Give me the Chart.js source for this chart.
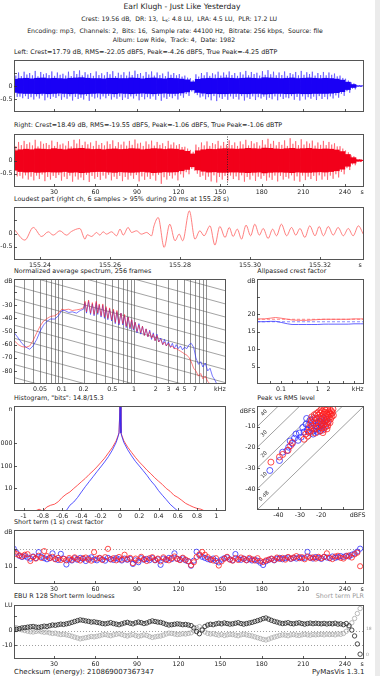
<!DOCTYPE html>
<html><head><meta charset="utf-8">
<script src="https://cdn.jsdelivr.net/npm/chart.js@4.4.1/dist/chart.umd.min.js"></script>
<style>
html,body{margin:0;padding:0;background:#fff;width:380px;height:676px;overflow:hidden;font-family:'DejaVu Sans',sans-serif;}
canvas{position:absolute;left:0;top:0;}
.t{position:absolute;white-space:pre;color:#222;}
#sb{position:absolute;left:375px;top:0;width:5px;height:676px;background:#ebebeb;}
</style></head><body>
<div id="sb"></div>
<script>
// ---------------- DATA ----------------
const waveTimes = [2,6,10,14,18,22,26,30,34,38,42,46,50,54,58,62,66,70,74,78,82,86,90,94,98,102,106,110,114,118,122,126,130,134,138,142,146,150,154,158,162,166,170,174,178,182,186,190,194,198,202,206,210,214,218,222,226,230,234,238,242,246,250,254];
const leftCoreHi = [0.27,0.30,0.31,0.29,0.31,0.32,0.30,0.31, 0.30,0.29,0.31,0.32,0.33,0.31,0.30,0.30, 0.29,0.31,0.31,0.30,0.30,0.32,0.31,0.29, 0.31,0.32,0.30,0.29,0.31,0.30,0.28,0.25, 0.17,0.27,0.30,0.31,0.30,0.31,0.32,0.31, 0.30,0.31,0.32,0.31,0.30,0.33,0.32,0.31, 0.30,0.31,0.32,0.30,0.31,0.32,0.31,0.30, 0.31,0.30,0.28,0.24,0.16,0.07,0.02,0.01];
const leftCoreLo = [-0.26,-0.29,-0.30,-0.30,-0.31,-0.30,-0.31,-0.30, -0.29,-0.30,-0.31,-0.30,-0.32,-0.31,-0.30,-0.29, -0.30,-0.30,-0.31,-0.29,-0.30,-0.31,-0.30,-0.29, -0.30,-0.31,-0.30,-0.29,-0.30,-0.30,-0.28,-0.24, -0.16,-0.26,-0.29,-0.31,-0.30,-0.31,-0.31,-0.30, -0.30,-0.31,-0.31,-0.30,-0.30,-0.32,-0.31,-0.30, -0.30,-0.31,-0.31,-0.30,-0.31,-0.31,-0.30,-0.30, -0.30,-0.29,-0.27,-0.23,-0.15,-0.07,-0.02,-0.01];
const leftSpikeHi = [0.48,0.52,0.55,0.50,0.58,0.54,0.49,0.56, 0.52,0.47,0.55,0.58,0.60,0.53,0.50,0.56, 0.49,0.54,0.57,0.51,0.53,0.55,0.59,0.50, 0.54,0.56,0.52,0.48,0.55,0.50,0.46,0.40, 0.30,0.45,0.50,0.53,0.49,0.55,0.52,0.56, 0.50,0.53,0.58,0.54,0.51,0.57,0.61,0.55, 0.52,0.56,0.50,0.54,0.58,0.53,0.55,0.50, 0.54,0.52,0.48,0.40,0.28,0.14,0.04,0.02];
const leftSpikeLo = [-0.42,-0.47,-0.50,-0.52,-0.48,-0.55,-0.50,-0.46, -0.53,-0.49,-0.56,-0.50,-0.52,-0.57,-0.48,-0.51, -0.47,-0.52,-0.49,-0.54,-0.50,-0.48,-0.55,-0.51, -0.49,-0.53,-0.57,-0.50,-0.47,-0.52,-0.45,-0.38, -0.28,-0.44,-0.51,-0.55,-0.58,-0.50,-0.53,-0.49, -0.52,-0.56,-0.50,-0.54,-0.48,-0.53,-0.51,-0.55, -0.50,-0.47,-0.53,-0.56,-0.52,-0.49,-0.54,-0.50, -0.51,-0.48,-0.45,-0.38,-0.26,-0.13,-0.04,-0.02];
const leftSpike2Hi = [0.40,0.38,0.44,0.41,0.37,0.45,0.42,0.39, 0.43,0.40,0.38,0.46,0.41,0.44,0.39,0.42, 0.41,0.45,0.38,0.43,0.40,0.42,0.46,0.39, 0.44,0.40,0.42,0.38,0.43,0.41,0.36,0.32, 0.22,0.36,0.41,0.39,0.44,0.40,0.43,0.42, 0.39,0.44,0.41,0.46,0.40,0.43,0.45,0.41, 0.42,0.39,0.45,0.41,0.43,0.46,0.40,0.42, 0.41,0.43,0.37,0.31,0.21,0.10,0.03,0.015];
const leftSpike2Lo = [-0.36,-0.41,-0.39,-0.43,-0.40,-0.37,-0.44,-0.41, -0.39,-0.43,-0.40,-0.42,-0.45,-0.38,-0.41,-0.44, -0.40,-0.38,-0.43,-0.41,-0.44,-0.40,-0.39,-0.42, -0.43,-0.40,-0.38,-0.44,-0.41,-0.39,-0.37,-0.31, -0.21,-0.35,-0.40,-0.43,-0.39,-0.44,-0.41,-0.40, -0.42,-0.39,-0.44,-0.40,-0.43,-0.41,-0.45,-0.40, -0.41,-0.44,-0.39,-0.42,-0.40,-0.43,-0.41,-0.39, -0.42,-0.40,-0.36,-0.30,-0.20,-0.10,-0.03,-0.015];
const rightCoreHi = [0.38,0.42,0.44,0.42,0.45,0.44,0.43,0.46, 0.44,0.42,0.45,0.46,0.47,0.45,0.43,0.44, 0.42,0.44,0.45,0.43,0.44,0.46,0.45,0.42, 0.44,0.46,0.45,0.43,0.45,0.44,0.41,0.36, 0.26,0.38,0.42,0.44,0.43,0.45,0.46,0.45, 0.44,0.45,0.47,0.46,0.45,0.48,0.47,0.45, 0.44,0.46,0.47,0.45,0.46,0.47,0.45,0.44, 0.45,0.44,0.41,0.35,0.24,0.12,0.04,0.02];
const rightCoreLo = [-0.38,-0.43,-0.45,-0.44,-0.46,-0.45,-0.44,-0.45, -0.45,-0.43,-0.46,-0.45,-0.47,-0.46,-0.44,-0.43, -0.43,-0.45,-0.46,-0.44,-0.45,-0.46,-0.45,-0.43, -0.45,-0.47,-0.46,-0.44,-0.45,-0.44,-0.40,-0.35, -0.25,-0.37,-0.42,-0.45,-0.44,-0.46,-0.46,-0.45, -0.45,-0.46,-0.47,-0.46,-0.45,-0.48,-0.46,-0.45, -0.45,-0.46,-0.47,-0.45,-0.46,-0.46,-0.45,-0.44, -0.45,-0.43,-0.40,-0.34,-0.23,-0.11,-0.04,-0.02];
const rightSpikeHi = [0.62,0.70,0.74,0.68,0.78,0.72,0.66,0.75, 0.70,0.64,0.73,0.78,0.80,0.71,0.68,0.74, 0.66,0.72,0.76,0.69,0.71,0.74,0.79,0.67, 0.72,0.75,0.70,0.65,0.74,0.68,0.62,0.52, 0.40,0.60,0.68,0.72,0.66,0.74,0.70,0.76, 0.68,0.72,0.78,0.73,0.69,0.77,0.82,0.74, 0.70,0.76,0.84,0.73,0.80,0.72,0.75,0.68, 0.74,0.70,0.65,0.54,0.38,0.19,0.06,0.03];
const rightSpikeLo = [-0.60,-0.68,-0.72,-0.75,-0.70,-0.78,-0.72,-0.66, -0.76,-0.70,-0.80,-0.72,-0.74,-0.81,-0.69,-0.73, -0.68,-0.75,-0.70,-0.78,-0.72,-0.69,-0.79,-0.73, -0.70,-0.76,-0.88,-0.72,-0.68,-0.75,-0.64,-0.52, -0.38,-0.62,-0.73,-0.79,-0.83,-0.72,-0.76,-0.70, -0.74,-0.80,-0.72,-0.77,-0.69,-0.76,-0.73,-0.79, -0.72,-0.68,-0.76,-0.80,-0.74,-0.70,-0.77,-0.72, -0.73,-0.69,-0.64,-0.52,-0.36,-0.18,-0.06,-0.03];
const rightSpike2Hi = [0.54,0.58,0.62,0.57,0.53,0.63,0.59,0.55, 0.60,0.56,0.53,0.64,0.58,0.61,0.55,0.59, 0.57,0.62,0.54,0.60,0.56,0.59,0.64,0.55, 0.61,0.56,0.59,0.54,0.60,0.57,0.51,0.45, 0.33,0.50,0.57,0.55,0.61,0.56,0.60,0.58, 0.55,0.61,0.57,0.64,0.56,0.60,0.63,0.57, 0.59,0.55,0.63,0.58,0.60,0.64,0.56,0.59, 0.58,0.60,0.53,0.45,0.31,0.16,0.05,0.025];
const rightSpike2Lo = [-0.52,-0.58,-0.56,-0.61,-0.57,-0.53,-0.62,-0.58, -0.55,-0.61,-0.57,-0.60,-0.64,-0.54,-0.58,-0.62, -0.57,-0.54,-0.61,-0.58,-0.62,-0.57,-0.55,-0.60, -0.61,-0.57,-0.54,-0.63,-0.58,-0.56,-0.52,-0.44, -0.32,-0.50,-0.57,-0.61,-0.56,-0.62,-0.58,-0.57, -0.60,-0.56,-0.62,-0.57,-0.61,-0.58,-0.64,-0.57, -0.58,-0.62,-0.56,-0.60,-0.57,-0.61,-0.58,-0.56, -0.60,-0.57,-0.52,-0.43,-0.29,-0.15,-0.05,-0.025];
const loudestAt = 155.28;

const loudT = [155.2326,155.2357,155.2381,155.2405,155.2424,155.2438,155.2457,155.2476,155.2490,155.2514,155.2529,155.2535,155.2548,155.2562,155.2571,155.2581,155.2590,155.2605,155.2619,155.2629,155.2638,155.2652,155.2662,155.2676,155.2690,155.2705,155.2719,155.2726,155.2738,155.2755,155.2771,155.2786,155.2798,155.2808,155.2827,155.2843,155.2857,155.2869,155.2886,155.2900,155.2914,155.2929,155.2941,155.2952,155.2964,155.2976,155.2989,155.3002,155.3014,155.3027,155.3038,155.3052,155.3065,155.3076,155.3090,155.3105,155.3119,155.3131,155.3143,155.3157,155.3171,155.3186,155.3198,155.3210,155.3224,155.3238,155.3252,155.3267,155.3281,155.3295,155.3310,155.3324];
const loudV = [0.164,-0.249,0.227,-0.112,0.064,-0.061,0.102,-0.061,0.076,0.189,-0.212,-0.049,-0.112,0.039,-0.061,0.064,-0.024,0.064,-0.086,0.164,-0.061,0.227,0.039,0.102,-0.024,0.039,-0.086,0.289,0.603,-0.525,0.352,-0.274,-0.024,-0.274,0.853,-0.212,0.102,-0.086,0.289,-0.437,0.264,-0.149,0.227,-0.112,0.164,-0.212,0.315,-0.086,0.352,-0.061,0.189,-0.187,0.164,-0.086,0.352,-0.086,0.227,-0.061,0.189,-0.149,0.289,-0.086,0.264,-0.086,0.264,-0.061,0.227,-0.086,0.189,-0.086,0.289,-0.024];

const specFreq = [0.022,0.025,0.028,0.032,0.036,0.04,0.045,0.05,0.056,0.063, 0.07,0.08,0.09,0.1,0.11,0.125,0.14,0.16,0.18,0.2, 0.21,0.22,0.235,0.25,0.265,0.28,0.3,0.315,0.33,0.35, 0.37,0.39,0.41,0.435,0.46,0.49,0.52,0.55,0.58,0.62, 0.66,0.7,0.74,0.78,0.83,0.88,0.93,0.98,1.04,1.1, 1.17,1.24,1.31,1.39,1.47,1.56,1.65,1.75,1.85,1.96, 2.08,2.2,2.35,2.5,2.65,2.8,3.0,3.2,3.4,3.6, 3.85,4.1,4.4,4.7,5.0,5.4,5.8,6.2,6.7,7.2, 7.8,8.4,9.0,9.7,10.5,11.3,12.2,13.2,14.3,15.5, 17,18.8];
const specLeft = [-51,-55,-59,-62,-63.5,-61,-56,-50,-45,-42, -40.5,-40.5,-38,-34,-34,-35.5,-35,-36,-34,-33, -28,-36,-27,-37,-29,-38,-28,-37,-30,-39, -30,-40,-32,-41,-33,-42,-34,-44,-35,-45, -36,-45,-38,-47,-39,-48,-41,-49,-43,-51, -44,-52,-46,-53,-48,-54,-49,-56,-51,-57, -52,-58,-55,-60,-56,-61,-58,-62,-59,-63, -60,-63,-61,-64,-62,-63,-60,-59,-62,-70, -75,-73,-77,-74,-80,-78,-84,-87,-91,-94, -96,-98];
const specRight = [-57,-60,-61.5,-62,-61,-57,-51,-46,-42,-40, -38.5,-38,-36,-33,-33.5,-33,-34,-33.5,-33,-32, -27,-35,-26,-36,-28,-37,-27,-36,-29,-38, -29,-39,-31,-40,-32,-41,-33,-43,-34,-44, -36,-44,-37,-46,-39,-47,-41,-48,-43,-50, -45,-51,-46,-53,-48,-54,-50,-55,-52,-57, -53,-58,-56,-60,-58,-61,-59,-62,-61,-63, -63,-64,-65,-66,-67,-68,-70,-73,-78,-80, -84,-82,-86,-84,-88,-90,-93,-96,-98,-99, -100,-100];
const specRefLines = [0,-10,-20,-30,-40,-50,-60,-70,-80,-90,-100,-110,-120];

const apFreq = [0.022,0.035,0.05,0.07,0.1,0.15,0.2,0.3,0.5,0.7,1,1.5,2,3,5,7,10,15,18.8];
const apRight = [18.6,18.6,18.8,19.0,18.8,18.5,18.3,18.2,18.2,18.3,18.4,18.5,18.5,18.5,18.5,18.5,18.6,18.6,18.6];
const apLeft = [17.8,17.8,17.9,17.9,17.6,17.2,17.0,17.0,17.0,17.0,17.0,17.1,17.1,17.1,17.1,17.1,17.2,17.2,17.2];
const crestLeftDb = 17.79, crestRightDb = 18.49;

const histRedX = [-1.02,-0.92,-0.88,-0.84,-0.80,-0.76,-0.72,-0.68,-0.64,-0.60,-0.56,-0.52,-0.48,-0.44,-0.40,-0.36,-0.32,-0.28,-0.24,-0.20,-0.16,-0.12,-0.08,-0.04,-0.02,-0.01,0,0.01,0.02,0.04,0.08,0.12,0.16,0.20,0.24,0.28,0.32,0.36,0.40,0.44,0.48,0.52,0.56,0.60,0.64,0.68,0.72,0.76,0.80,0.84,0.88,0.96];
const histRed = [1,1,1,1.2,1,1.5,1.8,2,2.6,4,5.5,7,10,14,20,28,42,60,90,140,220,380,650,1300,2200,3000,45000,3000,2200,1300,680,400,240,150,100,65,45,30,21,15,10,7.5,5,4,3,2.2,1.8,1.5,1.3,1.2,1,1];
const histBlueX = [-0.58,-0.56,-0.52,-0.48,-0.44,-0.40,-0.36,-0.32,-0.28,-0.24,-0.20,-0.16,-0.12,-0.08,-0.04,-0.02,-0.01,0,0.01,0.02,0.04,0.08,0.12,0.16,0.20,0.24,0.28,0.32,0.36,0.40,0.44,0.48,0.52,0.56,0.60];
const histBlue = [1,1,1.8,2.5,4,7,12,20,33,55,90,150,260,500,1100,2000,2900,45000,2900,2000,1100,520,280,160,100,62,38,22,14,8,5,3.2,2,1.4,1];

const pvrRightRms = [-43.5,-39.5,-38,-35.5,-34.3,-33.5,-28,-27.2,-26,-25.5,-24.7,-23.2,-24,-23,-22.5,-22,-21.8,-21.5,-21,-20.8,-20.5,-20.3,-20,-19.8,-19.5,-19.3,-19,-18.8,-18.6,-18.4,-18.2,-18,-17.8,-17.6,-17.4,-17.2,-17,-16.8,-16.6,-16.4,-16.2,-16,-15.8,-15.6,-15.4,-15.2,-15,-14.8,-14.5,-14.3,-19.6,-18.9,-17.9,-20.6,-22.8,-16.9,-21.2,-18.5,-17.3,-15.9,-20.1,-19.2,-22.2,-23.6,-24.4,-25,-26.3,-24.8];
const pvrRightPeak = [-27,-24.5,-23.3,-21.3,-19,-17.6,-16,-13.5,-12.5,-10.3,-7.2,-4.2,-9.5,-11,-8,-6,-10,-4.5,-7.5,-9.5,-3.5,-6,-8.5,-5,-2.5,-7,-4,-9,-5.8,-3,-7.5,-2,-5,-8.5,-3.8,-6.5,-1.5,-4.5,-7.5,-2.8,-5.5,-3.5,-1.8,-6.2,-4,-2.5,-5,-3.2,-1.5,-4.5,-10.5,-11.5,-10,-12,-13,-9.5,-2.8,-1.2,-11,-8,-1.8,-12.8,-3.6,-6.2,-5.2,-8.5,-14.5,-12];
const pvrLeftRms = [-44,-39.5,-38,-36,-33.5,-32.5,-31.8,-30.2,-29.4,-28.6,-27.1,-26.5,-25.8,-25.2,-24.6,-24,-23.5,-23,-22.5,-22,-21.5,-21,-20.5,-20,-19.5,-19,-18.5,-18,-17.5,-17,-23.8,-21.8,-20.2,-25.5,-22.8,-19.8,-18.8,-26.8,-28,-30.8,-34.5,-35.2];
const pvrLeftPeak = [-31,-26.2,-22.2,-21.5,-18,-15.5,-13.5,-13,-15,-10.3,-8.7,-11.5,-9,-6.8,-10.5,-8,-12,-7,-9.5,-11,-8,-10.5,-7.5,-9.5,-8.5,-10.8,-7,-9.5,-6.5,-8,-13.5,-12.5,-11.8,-12.8,-5.8,-6.2,-5.5,-6,-12.5,-16.5,-16.8,-19.8];
const pvrCrestLines = [0,10,20,30,40];
const pvrCrestLabels = ['0 dB','10','20','30','40'];

const stTimes = [1,3,5,7,9,11,13,15,17,19,21,23,25,27,29,31,33,35,37,39,41,43,45,47,49,51,53,55,57,59,61,63,65,67,69,71,73,75,77,79,81,83,85,87,89,91,93,95,97,99,101,103,105,107,109,111,113,115,117,119,121,123,125,127,129,131,133,135,137,139,141,143,145,147,149,151,153,155,157,159,161,163,165,167,169,171,173,175,177,179,181,183,185,187,189,191,193,195,197,199,201,203,205,207,209,211,213,215,217,219,221,223,225,227,229,231,233,235,237,239,241,243,245,247,249,251];
const stCrestRight = [18.4,17.2,16.5,15.8,16.8,17.1,13.2,15.5,14.6,16.2, 15.0,18.9,16.0,14.8,15.6,14.2,15.0,13.8,14.5,13.6, 14.9,13.9,15.3,14.4,13.5,14.8,15.2,14.0,13.4,18.3, 14.6,15.0,13.8,15.4,20.2,14.1,14.8,13.6,15.5,14.0, 16.8,14.2,15.0,12.0,14.6,13.5,15.6,14.3,13.2,14.8, 15.4,13.8,14.6,13.0,15.3,14.2,13.6,14.9,15.8,14.4, 13.7,15.1,14.0,13.1,10.8,12.5,15.5,17.0,18.4,16.8, 15.4,14.2,13.5,14.8,10.6,13.0,14.5,15.6,14.0,13.4, 14.9,13.8,15.2,14.4,13.6,15.0,14.2,13.5,14.8,13.2, 12.6,13.5,14.0,14.6,13.8,15.2,14.4,15.0,14.0,15.5, 14.6,15.2,16.0,14.8,15.4,14.2,15.8,14.9,15.3,14.6, 15.6,14.8,15.5,17.6,15.0,14.3,15.8,16.2,15.0,14.6, 15.9,16.4,15.2,17.0,18.0,10.2];
const stCrestLeft = [20.3,18.0,16.2,15.5,16.0,15.2,14.6,15.8,14.9,18.3, 15.6,14.8,14.2,15.0,17.6,14.4,13.8,17.3,14.5,11.2, 14.0,13.5,14.8,13.9,15.0,14.4,13.2,14.6,15.3,14.0, 13.6,14.8,14.1,13.4,15.0,14.3,13.8,14.9,14.2,13.5, 14.6,13.9,14.4,11.5,13.6,12.5,14.8,13.9,14.4,13.7, 14.9,13.6,14.2,11.0,14.6,13.8,15.0,14.3,17.6,14.5, 14.0,14.7,13.6,13.0,10.5,13.4,18.5,16.5,15.6,15.0, 14.3,13.8,14.6,13.2,12.4,14.0,14.8,15.3,14.2,13.6, 17.2,14.4,13.9,14.6,13.7,14.3,13.5,14.0,13.3,12.2, 10.9,13.0,13.8,14.4,13.6,14.6,15.0,14.2,14.8,15.2, 14.4,15.0,14.6,15.4,14.8,15.0,18.4,15.2,14.6,15.5, 15.0,14.4,15.6,15.2,14.8,15.8,15.0,15.4,16.0,15.5, 16.2,15.8,16.8,17.5,18.6,20.3];
const stLoudness = [0.5,1.0,1.5,2.0,2.2,2.5,2.8,3.0,2.6,2.4, 2.8,3.2,3.0,3.5,4.0,3.8,4.2,4.6,4.4,4.8, 5.2,5.8,6.4,7.0,7.5,7.2,6.8,6.5,6.0,6.2, 5.8,5.5,5.0,4.8,5.2,5.6,5.0,4.6,4.2,4.8, 5.4,5.8,5.2,4.8,5.5,6.0,5.6,5.0,5.4,6.2, 6.8,6.4,6.0,5.8,5.2,4.5,4.0,4.2,4.5,4.8, 4.6,4.2,4.4,4.0,3.6,2.0,-0.5,-2.0,0.5,3.0, 4.0,4.5,4.2,4.8,5.2,4.8,5.4,5.0,4.6,4.8, 5.2,5.6,5.0,4.6,5.0,5.4,5.8,6.4,7.0,7.6, 8.4,8.8,8.0,7.2,6.5,6.0,5.4,5.0,5.2,5.6, 5.0,4.8,5.2,5.5,5.0,4.6,5.0,5.3,4.9,5.2, 5.0,4.8,5.1,4.7,5.0,4.8,5.2,4.6,4.8,4.2, 5.0,3.5,0.5,-3.5,-9.0,-16.0];
const stPLR = [19.5,19.0,18.2,17.5,17.0,16.6,16.2,16.0,16.4,16.8, 16.2,15.8,16.0,15.4,15.0,15.2,14.6,14.2,14.4,14.0, 13.6,13.0,12.4,11.8,11.2,11.6,12.0,12.4,12.8,12.6, 13.0,13.4,14.0,14.2,13.8,13.4,14.0,14.4,14.8,14.2, 13.6,13.2,13.8,14.2,13.5,13.0,13.4,14.0,13.6,12.8, 12.2,12.6,13.0,13.2,13.8,14.6,15.2,15.0,14.6,14.2, 14.4,14.8,14.6,15.0,15.4,16.8,19.0,19.8,18.0,16.0, 15.0,14.6,14.8,14.2,13.8,14.2,13.6,14.0,14.4,14.2, 13.8,13.4,14.0,14.4,14.0,13.6,13.2,12.6,12.0,11.4, 10.8,10.4,11.0,11.8,12.4,13.0,13.6,14.0,13.8,13.4, 14.0,14.2,13.8,13.6,14.0,14.4,14.0,13.8,14.2,14.0, 14.2,14.4,14.0,14.5,14.2,14.4,14.0,14.6,14.4,15.0, 16.5,19.5,22.5,25.5,29.0,32.5];

const timeTicks = [30,60,90,120,150,180,210,240];
const timeTickLabels = ['30','60','90','120','150','180','210','240'];

// ---------------- HELPERS ----------------
const FONTF = "'DejaVu Sans', sans-serif";
const TF = 6.3;      // tick label size
const AT = 6.4;      // axes title size
const BLUE = '#1a00f5', BLUE_L = 'rgba(70,55,255,0.75)', RED = '#f2001a', RED_L = 'rgba(255,60,75,0.7)';
Chart.defaults.font.family = FONTF;

const measurer = document.createElement('canvas').getContext('2d');
function textWidth(str, size) { measurer.font = size + "px 'DejaVu Sans'"; return measurer.measureText(str).width; }
function fitSize(str, width) { return 20 * width / textWidth(str, 20); }
function addText(str, o) {
  const fs = o.size;
  const w = textWidth(str, fs);
  let l = o.left;
  if (o.right !== undefined) l = o.right - w;
  if (o.center !== undefined) l = o.center - w / 2;
  const d = document.createElement('div');
  d.className = 't';
  d.style.left = l.toFixed(2) + 'px';
  d.style.top = (o.cy - fs * 0.62).toFixed(2) + 'px';
  d.style.fontSize = fs.toFixed(2) + 'px';
  d.style.lineHeight = (fs * 1.2).toFixed(2) + 'px';
  if (o.color) d.style.color = o.color;
  if (o.html) d.innerHTML = o.html; else d.textContent = str;
  document.body.appendChild(d);
}

function axis(pos, type, min, max, ticks, labels, size, extra) {
  const horiz = pos === 'bottom';
  const o = {
    type, position: pos, min, max, offset: false,
    grid: {display: false, drawTicks: false},
    border: {display: false},
    afterBuildTicks: s => { s.ticks = ticks.map(v => ({value: v})); },
    ticks: {autoSkip: false, maxRotation: 0, minRotation: 0, padding: 1.5,
      font: {family: FONTF, size: TF}, color: '#222',
      callback: (v, i) => labels[i]},
    afterFit: s => { if (horiz) s.height = size; else s.width = size; }
  };
  return Object.assign(o, extra || {});
}

function chartAt(A, xh, rw, type, datasets, scales, hooks) {
  const c = document.createElement('canvas');
  c.width = 380; c.height = 676;
  document.body.appendChild(c);
  hooks = hooks || {};
  return new Chart(c, {
    type, data: {datasets},
    options: {
      responsive: false, animation: false, devicePixelRatio: 1, events: [],
      layout: {padding: {left: 0, top: A.t, right: 380 - A.r - (rw || 0), bottom: 676 - A.b - xh}},
      plugins: {legend: {display: false}, tooltip: {enabled: false}},
      scales
    },
    plugins: [{
      id: 'deco',
      beforeDatasetsDraw(ch) {
        const ctx = ch.ctx, a = ch.chartArea;
        ctx.save(); ctx.beginPath(); ctx.rect(a.left, a.top, a.right - a.left, a.bottom - a.top); ctx.clip();
        if (hooks.before) hooks.before(ch, ctx, a);
        ctx.restore();
      },
      afterDatasetsDraw(ch) {
        const ctx = ch.ctx, a = ch.chartArea;
        ctx.save(); ctx.beginPath(); ctx.rect(a.left, a.top, a.right - a.left, a.bottom - a.top); ctx.clip();
        if (hooks.after) hooks.after(ch, ctx, a);
        ctx.restore();
        ctx.save();
        ctx.strokeStyle = '#555'; ctx.lineWidth = 1;
        ctx.strokeRect(a.left + 0.5, a.top + 0.5, a.right - a.left - 1, a.bottom - a.top - 1);
        const marks = hooks.marks || {};
        ctx.strokeStyle = '#333'; ctx.lineWidth = 0.8;
        for (const id in marks) {
          const s = ch.scales[id];
          for (const v of marks[id]) {
            const p = Math.round(s.getPixelForValue(v)) + 0.5;
            ctx.beginPath();
            if (s.isHorizontal()) { ctx.moveTo(p, a.bottom); ctx.lineTo(p, a.bottom - 3); }
            else if (s.position === 'left') { ctx.moveTo(a.left, p); ctx.lineTo(a.left + 3, p); }
            else { ctx.moveTo(a.right, p); ctx.lineTo(a.right - 3, p); }
            ctx.stroke();
          }
        }
        ctx.restore();
      }
    }]
  });
}

// ---------------- TEXT ----------------
const encLine = 'Encoding: mp3,  Channels: 2,  Bits: 16,  Sample rate: 44100 Hz,  Bitrate: 256 kbps,  Source: file';
const HS = fitSize(encLine, 296);
addText('Earl Klugh - Just Like Yesterday', {size: 7.6, center: 182, cy: 7});
addText('Crest: 19.56 dB,  DR: 13,  LK: 4.8 LU,  LRA: 4.5 LU,  PLR: 17.2 LU', {size: HS, center: 180, cy: 19.3,
  html: 'Crest: 19.56 dB,  DR: 13,  L<sub style="font-size:60%;vertical-align:-0.15em">K</sub>: 4.8 LU,  LRA: 4.5 LU,  PLR: 17.2 LU'});
addText(encLine, {size: HS, center: 175, cy: 30.5});
addText('Album: Low Ride,  Track: 4,  Date: 1982', {size: HS, center: 174, cy: 40});
addText('Left: Crest=17.79 dB, RMS=-22.05 dBFS, Peak=-4.26 dBFS, True Peak=-4.25 dBTP', {size: AT, left: 14, cy: 52.5});
addText('Right: Crest=18.49 dB, RMS=-19.55 dBFS, Peak=-1.06 dBFS, True Peak=-1.06 dBTP', {size: AT, left: 14, cy: 126});
addText('Loudest part (right ch, 6 samples > 95% during 20 ms at 155.28 s)', {size: AT, left: 14, cy: 200});
addText('Normalized average spectrum, 256 frames', {size: AT, left: 14, cy: 272.3});
addText('Allpassed crest factor', {size: AT, left: 257.3, cy: 272.3});
addText('Histogram, "bits": 14.8/15.3', {size: AT, left: 14, cy: 398.5});
addText('Peak vs RMS level', {size: AT, left: 257.3, cy: 398.5});
addText('Short term (1 s) crest factor', {size: AT, left: 14, cy: 523});
addText('EBU R 128 Short term loudness', {size: AT, left: 14, cy: 597});
addText('Short term PLR', {size: AT, right: 364, cy: 597, color: '#9a9a9a'});
addText('Checksum (energy): 210869007367347', {size: 7, left: 14, cy: 672.5});
addText('PyMasVis 1.3.1', {size: 7, right: 364.5, cy: 672.5});

// ---------------- WAVEFORMS ----------------
function wave(A, coreLo, coreHi, spLo, spHi, sp2Lo, sp2Hi, cCore, cSpike, withLabels, hooksExtra) {
  const spikePts = [];
  waveTimes.forEach((t, i) => {
    spikePts.push({x: t - 1.5, y: spHi[i]});
    spikePts.push({x: t - 0.5, y: sp2Lo[i]});
    spikePts.push({x: t + 0.5, y: sp2Hi[i]});
    spikePts.push({x: t + 1.5, y: spLo[i]});
  });
  const ds = [
    {type: 'bar', data: waveTimes.map((t, i) => ({x: t, y: [coreLo[i], coreHi[i]]})), backgroundColor: cCore,
     barPercentage: 1.12, categoryPercentage: 1, grouped: false, order: 0, borderWidth: 0},
    {type: 'line', data: spikePts, borderColor: cSpike, borderWidth: 0.8, pointRadius: 0, fill: false, tension: 0, order: 1}
  ];
  const xt = withLabels ? timeTicks.concat([252.4]) : timeTicks;
  const xl = withLabels ? timeTickLabels.concat(['s']) : timeTicks.map(() => '');
  return chartAt(A, withLabels ? 10 : 0, 0, 'bar', ds, {
    x: axis('bottom', 'linear', 1.2, 253.8, xt, xl, withLabels ? 10 : 0, withLabels ? {} : {ticks: {display: false}}),
    y: axis('left', 'linear', -1, 1, [0.5, 0, -0.5], ['', '0', '-0.5'], A.l)
  }, Object.assign({marks: {x: timeTicks, y: [0.5, 0, -0.5]}}, hooksExtra || {}));
}
wave({l: 14, t: 60, r: 364, b: 112}, leftCoreLo, leftCoreHi, leftSpikeLo, leftSpikeHi, leftSpike2Lo, leftSpike2Hi, BLUE, BLUE_L, false);
wave({l: 14, t: 134, r: 364, b: 187}, rightCoreLo, rightCoreHi, rightSpikeLo, rightSpikeHi, rightSpike2Lo, rightSpike2Hi, RED, RED_L, true, {
  after(ch, ctx, a) {
    const x = Math.round(ch.scales.x.getPixelForValue(loudestAt)) + 0.5;
    ctx.strokeStyle = '#222'; ctx.lineWidth = 0.8; ctx.setLineDash([1, 1.5]);
    ctx.beginPath(); ctx.moveTo(x, a.top); ctx.lineTo(x, a.bottom); ctx.stroke();
  }
});

// ---------------- LOUDEST PART ----------------
chartAt({l: 14, t: 207, r: 364, b: 260}, 10, 0, 'line', [
  {data: loudT.map((t, i) => ({x: t, y: loudV[i]})), borderColor: '#ff6060', borderWidth: 0.8,
   pointRadius: 0, cubicInterpolationMode: 'monotone', fill: false}
], {
  x: axis('bottom', 'linear', 155.2326, 155.3326, [155.24, 155.26, 155.28, 155.30, 155.32, 155.3315],
    ['155.24', '155.26', '155.28', '155.30', '155.32', 's'], 10),
  y: axis('left', 'linear', -1, 1, [0.5, 0, -0.5], ['', '0', '-0.5'], 14)
}, {marks: {x: [155.24, 155.26, 155.28, 155.30, 155.32], y: [0.5, 0, -0.5]}});

// ---------------- SPECTRUM ----------------
const specGrid = [0.03,0.04,0.05,0.06,0.07,0.08,0.09,0.1,0.2,0.3,0.4,0.5,0.6,0.7,0.8,0.9,1,2,3,4,5,6,7,8,9,10];
chartAt({l: 14, t: 279, r: 226, b: 384}, 10, 0, 'line', [
  {data: specFreq.map((f, i) => ({x: f, y: specLeft[i]})), borderColor: 'rgba(30,30,255,0.75)', borderWidth: 0.8, pointRadius: 0, fill: false, order: 1},
  {data: specFreq.map((f, i) => ({x: f, y: specRight[i]})), borderColor: 'rgba(255,30,30,0.7)', borderWidth: 0.8, pointRadius: 0, fill: false, order: 0}
], {
  x: axis('bottom', 'logarithmic', 0.0218, 18.8, [0.05, 0.1, 0.2, 0.5, 1, 2, 3, 4, 5, 7, 15.5],
    ['0.05', '0.1', '0.2', '0.5', '1', '2', '3', '4', '5', '7', 'kHz'], 10),
  y: axis('left', 'linear', -90, -10, [-11.5, -30, -40, -50, -60, -70, -80],
    ['dB', '-30', '-40', '-50', '-60', '-70', '-80'], 14)
}, {
  marks: {y: [-20, -30, -40, -50, -60, -70, -80]},
  before(ch, ctx, a) {
    const sx = ch.scales.x, sy = ch.scales.y;
    ctx.strokeStyle = 'rgba(70,70,70,0.85)'; ctx.lineWidth = 0.7;
    for (const f of specGrid) {
      const x = Math.round(sx.getPixelForValue(f)) + 0.5;
      ctx.beginPath(); ctx.moveTo(x, a.top); ctx.lineTo(x, a.bottom); ctx.stroke();
    }
    ctx.strokeStyle = 'rgba(90,90,90,0.8)'; ctx.lineWidth = 0.7;
    for (const c of specRefLines) {
      const f0 = 0.0218, f1 = 18.8;
      ctx.beginPath();
      ctx.moveTo(sx.getPixelForValue(f0), sy.getPixelForValue(c - 15 * Math.log10(f0)));
      ctx.lineTo(sx.getPixelForValue(f1), sy.getPixelForValue(c - 15 * Math.log10(f1)));
      ctx.stroke();
    }
  }
});

// ---------------- ALLPASSED CREST ----------------
chartAt({l: 257, t: 279, r: 364, b: 384}, 10, 0, 'line', [
  {data: apFreq.map((f, i) => ({x: f, y: apRight[i]})), borderColor: '#ff5050', borderWidth: 0.8, pointRadius: 0, fill: false},
  {data: apFreq.map((f, i) => ({x: f, y: apLeft[i]})), borderColor: '#3a3aff', borderWidth: 0.8, pointRadius: 0, fill: false},
  {data: [{x: 0.0218, y: crestRightDb}, {x: 18.8, y: crestRightDb}], borderColor: '#ff7070', borderWidth: 0.8, borderDash: [3, 2], pointRadius: 0, fill: false},
  {data: [{x: 0.0218, y: crestLeftDb}, {x: 18.8, y: crestLeftDb}], borderColor: '#7070ff', borderWidth: 0.8, borderDash: [3, 2], pointRadius: 0, fill: false}
], {
  x: axis('bottom', 'logarithmic', 0.0218, 18.8, [0.1, 1, 2, 12.6], ['0.1', '1', '2', 'kHz'], 10),
  y: axis('left', 'linear', 0, 30, [29.4, 20, 15, 10, 5], ['dB', '20', '15', '10', '5'], 257)
}, {marks: {x: [0.05, 0.1, 0.2, 0.5, 1, 2, 5, 10], y: [25, 20, 15, 10, 5]}});

// ---------------- HISTOGRAM ----------------
chartAt({l: 14, t: 406, r: 226, b: 511}, 10, 0, 'line', [
  {data: histBlueX.map((x, i) => ({x, y: histBlue[i]})), borderColor: '#2a2aff', borderWidth: 0.8, pointRadius: 0, fill: false, order: 0},
  {data: histRedX.map((x, i) => ({x, y: histRed[i]})), borderColor: '#ff2a2a', borderWidth: 0.8, pointRadius: 0, fill: false, order: 1}
], {
  x: axis('bottom', 'linear', -1.1, 1.1, [-1, -0.8, -0.6, -0.4, -0.2, 0, 0.2, 0.4, 0.6, 0.8, 1],
    ['-1', '-0.8', '-0.6', '-0.4', '-0.2', '0', '0.2', '0.4', '0.6', '0.8', '1'], 10),
  y: axis('left', 'logarithmic', 1, 45700, [10, 100, 1000, 33000], ['10', '100', '1000', 'n'], 14)
}, {marks: {x: [-1, -0.8, -0.6, -0.4, -0.2, 0, 0.2, 0.4, 0.6, 0.8, 1], y: [10, 100, 1000]}});

// ---------------- PEAK VS RMS ----------------
chartAt({l: 257, t: 406, r: 364, b: 510}, 10, 0, 'scatter', [
  {data: pvrRightRms.map((x, i) => ({x, y: pvrRightPeak[i]})), borderColor: '#ff2020', backgroundColor: 'rgba(0,0,0,0)',
   pointRadius: 3, pointBorderWidth: 0.8, order: 0},
  {data: pvrLeftRms.map((x, i) => ({x, y: pvrLeftPeak[i]})), borderColor: '#3030ff', backgroundColor: 'rgba(0,0,0,0)',
   pointRadius: 3, pointBorderWidth: 0.8, order: 1}
], {
  x: axis('bottom', 'linear', -50, 0, [-40, -30, -20, -3], ['-40', '-30', '-20', 'dBFS'], 10),
  y: axis('left', 'linear', -50, 0, [-2.4, -10, -20, -30, -40], ['dBFS', '-10', '-20', '-30', '-40'], 257)
}, {
  marks: {x: [-40, -30, -20, -10], y: [-10, -20, -30, -40]},
  before(ch, ctx, a) {
    const sx = ch.scales.x, sy = ch.scales.y;
    ctx.strokeStyle = '#777'; ctx.lineWidth = 0.7;
    pvrCrestLines.forEach((c, k) => {
      ctx.beginPath();
      ctx.moveTo(sx.getPixelForValue(-60), sy.getPixelForValue(-60 + c));
      ctx.lineTo(sx.getPixelForValue(10), sy.getPixelForValue(10 + c));
      ctx.stroke();
      ctx.save();
      ctx.translate(sx.getPixelForValue(-46.7), sy.getPixelForValue(-46.7 + c + 3.4));
      ctx.rotate(-Math.PI / 4);
      ctx.fillStyle = '#333'; ctx.font = "5.2px 'DejaVu Sans'"; ctx.textAlign = 'center'; ctx.textBaseline = 'middle';
      ctx.fillText(pvrCrestLabels[k], 0, 0);
      ctx.restore();
    });
  }
});

// ---------------- SHORT TERM CREST ----------------
chartAt({l: 14, t: 530, r: 364, b: 584}, 10, 0, 'scatter', [
  {data: stTimes.map((t, i) => ({x: t, y: stCrestRight[i]})), borderColor: '#ff2020', backgroundColor: 'rgba(0,0,0,0)',
   pointRadius: 2.6, pointBorderWidth: 0.8, order: 0},
  {data: stTimes.map((t, i) => ({x: t, y: stCrestLeft[i]})), borderColor: '#3030ff', backgroundColor: 'rgba(0,0,0,0)',
   pointRadius: 2.6, pointBorderWidth: 0.8, order: 1}
], {
  x: axis('bottom', 'linear', 1.2, 253.8, timeTicks.concat([252.4]), timeTickLabels.concat(['s']), 10),
  y: axis('left', 'linear', 0, 31, [29.9, 10], ['dB', '10'], 14)
}, {
  marks: {x: timeTicks, y: [20, 10]},
  before(ch, ctx, a) {
    const y = Math.round(ch.scales.y.getPixelForValue(20)) + 0.5;
    ctx.strokeStyle = '#888'; ctx.lineWidth = 0.8; ctx.setLineDash([1, 2]);
    ctx.beginPath(); ctx.moveTo(a.left, y); ctx.lineTo(a.right, y); ctx.stroke();
  }
});

// ---------------- EBU R128 ----------------
chartAt({l: 14, t: 605, r: 364, b: 659}, 10, 16, 'scatter', [
  {data: stTimes.map((t, i) => ({x: t, y: stLoudness[i]})), borderColor: '#222', backgroundColor: 'rgba(0,0,0,0)',
   pointRadius: 2.2, pointBorderWidth: 0.8, yAxisID: 'y', order: 0},
  {data: stTimes.map((t, i) => ({x: t, y: stPLR[i]})), borderColor: '#aaa', backgroundColor: 'rgba(0,0,0,0)',
   pointRadius: 2.2, pointBorderWidth: 0.8, yAxisID: 'y2', order: 1}
], {
  x: axis('bottom', 'linear', 1.2, 253.8, timeTicks.concat([252.4]), timeTickLabels.concat(['s']), 10),
  y: axis('left', 'linear', -19.3, 17.7, [17.2, 0, -10], ['LU', '0', '-10'], 14),
  y2: axis('right', 'linear', -3, 35, [0, 18], ['0', '18'], 16, {ticks: {autoSkip: false, maxRotation: 0, padding: 2,
    font: {family: FONTF, size: 4.5}, color: '#999', callback: (v, i) => ['0', '18'][i]}})
}, {
  marks: {x: timeTicks, y: [10, 0, -10]},
  before(ch, ctx, a) {
    ctx.strokeStyle = '#888'; ctx.lineWidth = 0.8; ctx.setLineDash([1, 2]);
    for (const v of [0, -10]) {
      const y = Math.round(ch.scales.y.getPixelForValue(v)) + 0.5;
      ctx.beginPath(); ctx.moveTo(a.left, y); ctx.lineTo(a.right, y); ctx.stroke();
    }
  }
});
</script>
</body></html>
